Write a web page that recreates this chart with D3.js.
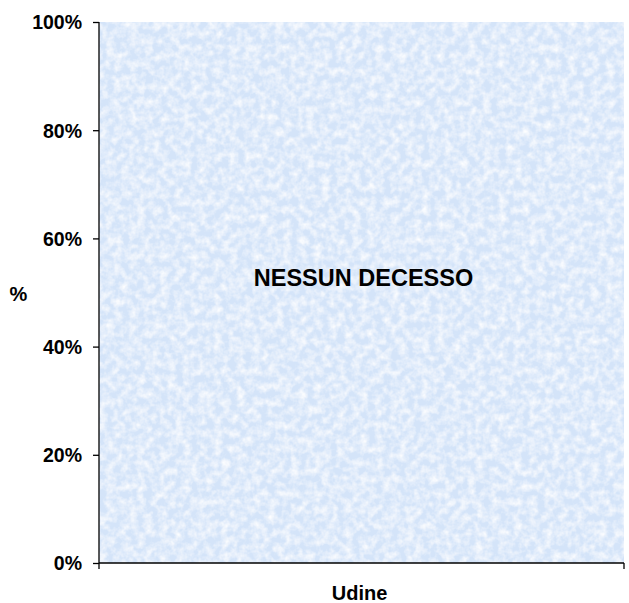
<!DOCTYPE html>
<html>
<head>
<meta charset="utf-8">
<script src="https://cdn.jsdelivr.net/npm/d3@7"></script>
<style>
  body { margin: 0; background: #fff; }
  text { font-family: "Liberation Sans", Arial, sans-serif; font-weight: bold; fill: #000; }
</style>
</head>
<body>
<div id="chart"></div>
<script>
// data
var categories = ["Udine"];
var values = [0];            // no deaths recorded
var yTicks = [0, 20, 40, 60, 80, 100];
var noteText = "NESSUN DECESSO";
var yTitle = "%";

// Set Margins
var margin = {top: 22, right: 5, bottom: 40, left: 99},
    width = 629 - margin.left - margin.right,
    height = 603 - margin.top - margin.bottom;

var svg = d3.select("#chart")
  .append("svg")
    .attr("width", 629)
    .attr("height", 603);

// textured blue background like the original plot area
var defs = svg.append("defs");
var filt = defs.append("filter")
    .attr("id", "tex")
    .attr("x", 0).attr("y", 0).attr("width", 1).attr("height", 1);
filt.append("feTurbulence")
    .attr("type", "fractalNoise")
    .attr("baseFrequency", 0.13)
    .attr("numOctaves", 3)
    .attr("seed", 7)
    .attr("result", "noise");
filt.append("feColorMatrix")
    .attr("in", "noise")
    .attr("type", "matrix")
    .attr("values", "0 0 0 0 1  0 0 0 0 1  0 0 0 0 1  0 0 0 -1.6 1.05")
    .attr("result", "white");
filt.append("feComposite")
    .attr("in", "white")
    .attr("in2", "SourceGraphic")
    .attr("operator", "atop");

var g = svg.append("g")
  .attr("transform", "translate(" + margin.left + "," + margin.top + ")");

var x = d3.scaleBand().domain(categories).range([0, width]).padding(0);
var y = d3.scaleLinear().domain([0, 100]).range([height, 0]);

g.append("rect")
  .attr("width", width)
  .attr("height", height)
  .attr("fill", "#d4e4f9")
  .attr("filter", "url(#tex)");

// bars (all zero)
g.selectAll(".bar")
  .data(values)
  .enter().append("rect")
  .attr("class", "bar")
  .attr("x", function(d, i) { return x(categories[i]) + x.bandwidth() * 0.25; })
  .attr("width", x.bandwidth() * 0.5)
  .attr("y", function(d) { return y(d); })
  .attr("height", function(d) { return height - y(d); })
  .attr("fill", "#3366cc");

// y axis
var yAxis = g.append("g")
  .call(d3.axisLeft(y).tickValues(yTicks).tickSize(6).tickPadding(11)
    .tickFormat(function(d) { return d + "%"; }));
yAxis.select(".domain").attr("stroke", "#000").attr("stroke-width", 1.3)
  .attr("d", "M0," + height + "V0");
yAxis.selectAll(".tick line").attr("stroke", "#000").attr("stroke-width", 1.3);
yAxis.selectAll("text").style("font-size", "19.5px").attr("dy", "0.35em");

// x axis with boundary ticks
var xAxis = g.append("g")
  .attr("transform", "translate(0," + height + ")");
xAxis.append("line")
  .attr("x1", 0).attr("x2", width)
  .attr("stroke", "#000").attr("stroke-width", 1.5);
xAxis.selectAll(".bt")
  .data([0, width])
  .enter().append("line")
  .attr("x1", function(d) { return d; })
  .attr("x2", function(d) { return d; })
  .attr("y1", 0).attr("y2", 6)
  .attr("stroke", "#000").attr("stroke-width", 1.3);
xAxis.selectAll(".cat")
  .data(categories)
  .enter().append("text")
  .attr("x", function(d) { return x(d) + x.bandwidth() / 2 - 2; })
  .attr("y", 37)
  .attr("text-anchor", "middle")
  .style("font-size", "20px")
  .text(function(d) { return d; });

// y title
svg.append("text")
  .attr("x", 18.5)
  .attr("y", 301)
  .attr("text-anchor", "middle")
  .style("font-size", "20px")
  .text(yTitle);

// note
g.append("text")
  .attr("x", width / 2 + 2)
  .attr("y", y(60) + 48)
  .attr("text-anchor", "middle")
  .style("font-size", "23.5px")
  .text(noteText);
</script>
</body>
</html>
